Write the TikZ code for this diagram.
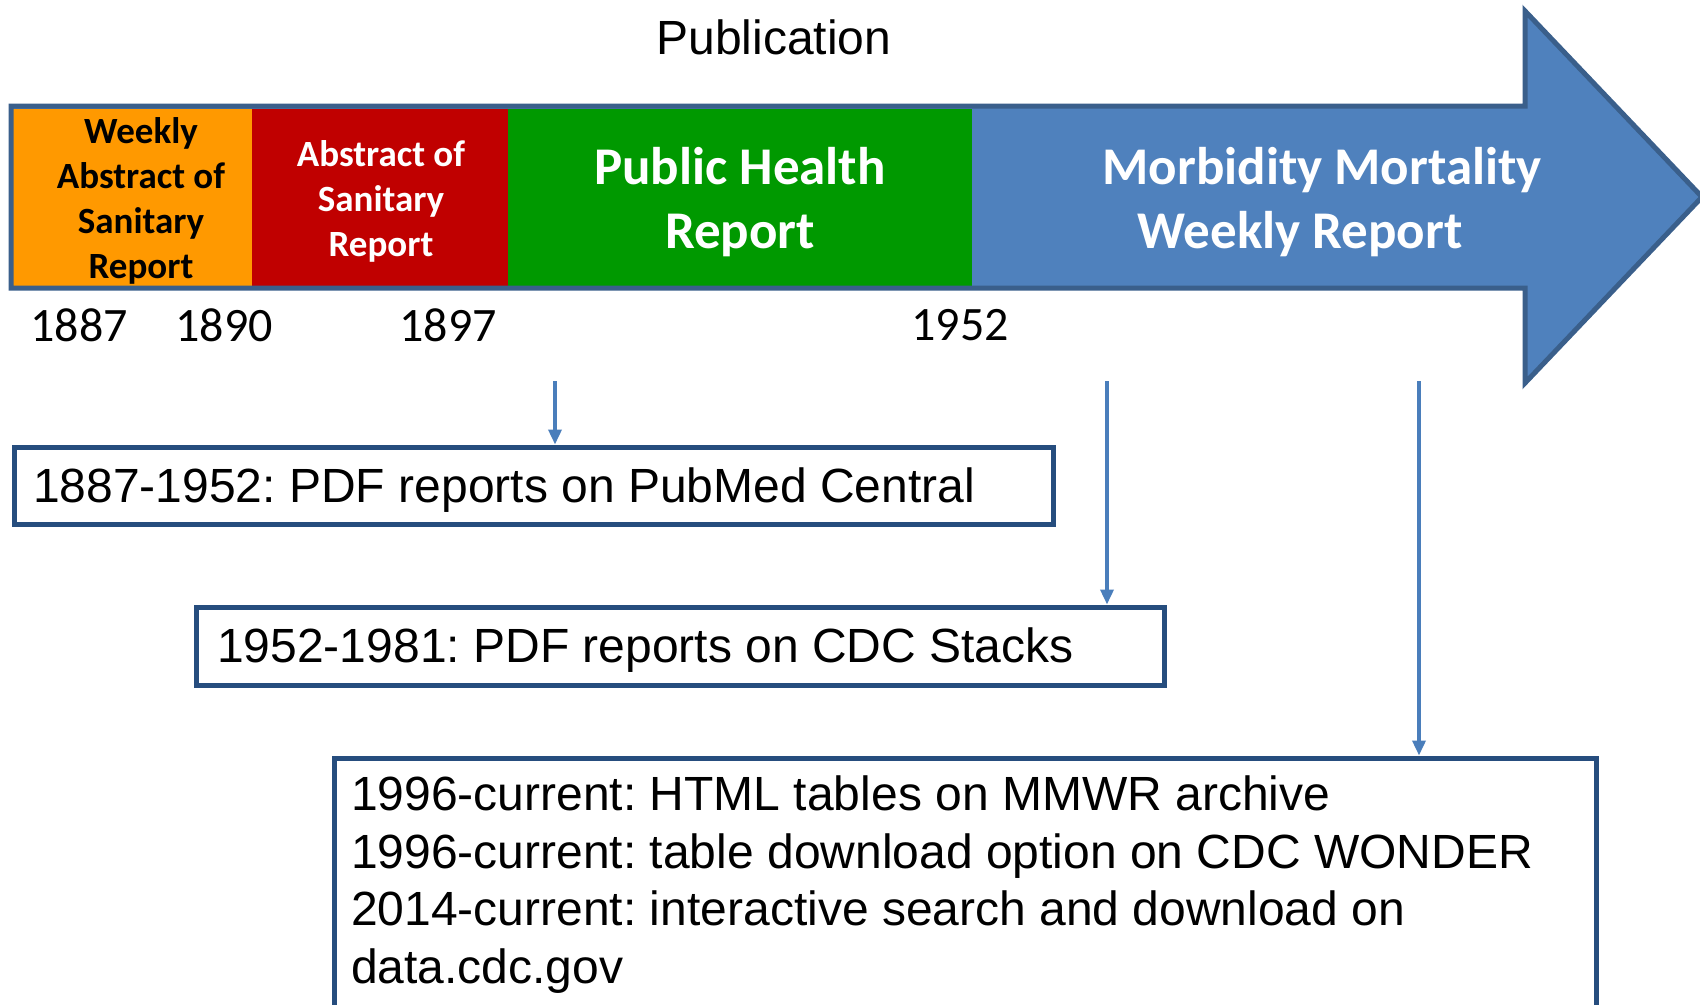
\documentclass[tikz,border=0pt]{standalone}
\usepackage{fontspec}
\setmainfont{Liberation Sans}
\newfontfamily\calibfont{Carlito}
\usetikzlibrary{arrows.meta}

\definecolor{arrowfill}{HTML}{4F81BD}
\definecolor{arrowedge}{HTML}{3A5F8B}
\definecolor{boxedge}{HTML}{264D7E}
\definecolor{linkblue}{HTML}{4A7EBB}
\definecolor{eraorange}{HTML}{FF9900}
\definecolor{erared}{HTML}{C00000}
\definecolor{eragreen}{HTML}{009900}

\frenchspacing
\begin{document}
\begin{tikzpicture}[x=1pt,y=-1pt,
  erasmall/.style={font=\calibfont\bfseries\fontsize{37}{45}\selectfont, align=center, inner sep=0pt},
  eralarge/.style={font=\calibfont\bfseries\fontsize{53}{64}\selectfont, align=center, inner sep=0pt, text=white},
  yearlabel/.style={font=\calibfont\fontsize{48}{55}\selectfont, inner sep=0pt},
  infobox/.style={draw=boxedge, line width=5pt, fill=white, anchor=north west},
  infotext/.style={font=\fontsize{48}{57.5}\selectfont, align=left, inner sep=0pt, anchor=base west},
  link/.style={draw=linkblue, line width=3.5pt, -{Triangle[length=15pt,width=13pt]}}
]
% canvas
\clip (0,0) rectangle (1700,1004);
\fill[white] (0,0) rectangle (1700,1004);

% title
\node[font=\fontsize{48}{57}\selectfont, inner sep=0pt] (title) at (774,37) {Publication};

% timeline arrow body
\fill[arrowfill] (11,106) -- (1525,106) -- (1525,11) -- (1702,197) -- (1525,383) -- (1525,288) -- (11,288) -- cycle;
% era blocks
\fill[eraorange] (11,108.5) rectangle (252,285.5);
\fill[erared]    (252,108.5) rectangle (508,285.5);
\fill[eragreen]  (508,108.5) rectangle (972,285.5);
% arrow outline
\draw[arrowedge, line width=5pt, line join=miter] (11,106) -- (1525,106) -- (1525,11) -- (1702,197) -- (1525,383) -- (1525,288) -- (11,288) -- cycle;

% era labels
\node[erasmall, text=black] (wasr) at (141,201) {Weekly\\Abstract of\\Sanitary\\Report};
\node[erasmall, text=white] (asr) at (381,201) {Abstract of\\Sanitary\\Report};
\node[eralarge] (phr) at (740,202) {Public Health\\Report};
\node[eralarge] (mmwr) at (1322,202) {Morbidity Mortality\\Weekly Report\hspace*{44pt}};

% years
\node[yearlabel] (y1887) at (79,325) {1887};
\node[yearlabel] (y1890) at (224,325) {1890};
\node[yearlabel] (y1897) at (448,325) {1897};
\node[yearlabel] (y1952) at (960,325) {1952};

% archive boxes
\node[infobox, minimum width=1039pt, minimum height=77pt] (box1) at (11.5,444.5) {};
\node[infotext] (text1) at (33,502) {1887-1952: PDF reports on PubMed Central};

\node[infobox, minimum width=968pt, minimum height=78pt] (box2) at (194,604.5) {};
\node[infotext] (text2) at (217,662) {1952-1981: PDF reports on CDC Stacks};

\node[infobox, minimum width=1262pt, minimum height=400pt] (box3) at (332,755.5) {};
% multi-line node: base anchor sits on the last line
\node[infotext] (text3) at (351,983) {1996-current: HTML tables on MMWR archive\\1996-current: table download option on CDC WONDER\\2014-current: interactive search and download on\\data.cdc.gov};

% connectors
\coordinate (c1) at (555,381);
\coordinate (c2) at (1107,381);
\coordinate (c3) at (1419,381);
\draw[link] (c1) -- (c1 |- box1.north);
\draw[link] (c2) -- (c2 |- box2.north);
\draw[link] (c3) -- (c3 |- box3.north);
\end{tikzpicture}
\end{document}
